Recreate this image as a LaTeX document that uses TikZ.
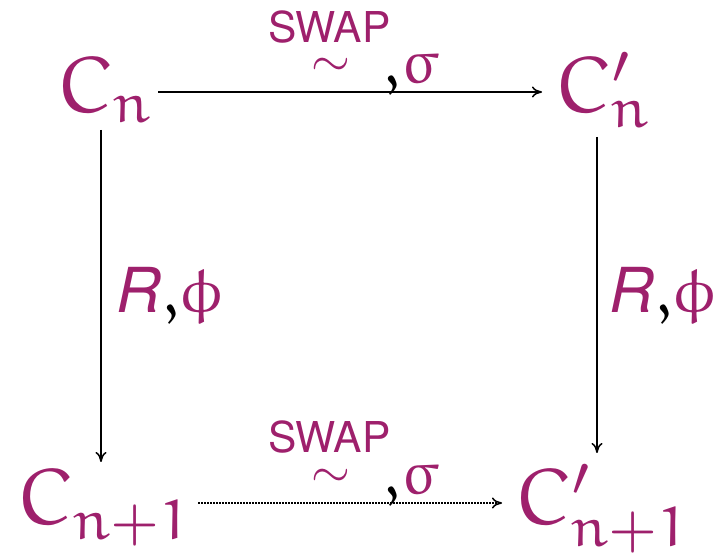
\documentclass[tikz,border=0pt]{standalone}
\usepackage[no-math]{fontspec}
\setsansfont{TeX Gyre Heros}
\DeclareFontFamily{U}{myeur}{}
\DeclareFontShape{U}{myeur}{m}{n}{<->eurm10}{}
\DeclareFontShape{U}{myeur}{b}{n}{<->eurb10}{}
\DeclareSymbolFont{eur}{U}{myeur}{m}{n}
\DeclareSymbolFont{eurb}{U}{myeur}{b}{n}
\DeclareMathSymbol{\eC}{\mathalpha}{eur}{`C}
\DeclareMathSymbol{\en}{\mathalpha}{eur}{`n}
\DeclareMathSymbol{\eone}{\mathord}{eur}{`1}
\DeclareMathSymbol{\esigma}{\mathord}{eur}{"1B}
\DeclareMathSymbol{\ephi}{\mathord}{eur}{"1E}
\DeclareMathSymbol{\ecomma}{\mathpunct}{eurb}{"3B}
\usetikzlibrary{arrows.meta}
\definecolor{plum}{RGB}{158,32,108}
\newcommand{\sub}[2]{\lower#1pt\hbox{$\scriptstyle#2$}}
\newcommand{\blk}{\textcolor{black}{\ecomma}}
\begin{document}
\begin{tikzpicture}[x=1pt,y=1pt,
  obj/.style={inner sep=0pt, text=plum, anchor=base west, scale=8.0},
  lbl/.style={inner sep=0pt, text=plum, anchor=base west, scale=6.2},
  small/.style={inner sep=0pt, text=plum, anchor=base west, scale=4.25},
  tld/.style={inner sep=0pt, text=plum, scale=5.0},
  conn/.style={line width=1.5pt, -{To[length=10pt,width=11pt]}},
  dotconn/.style={conn, dash pattern=on 1.5pt off 1.5pt}]
\useasboundingbox (0,0) rectangle (715,554);
% objects
\node[obj] (cn)   at (55,441)  {$\eC\sub{1.2}{\en}$};
\node[obj] (cnp)  at (553,441) {$\eC\rlap{$^{\prime}$}\sub{1.8}{\en}$};
\node[obj] (cn1)  at (15,29)   {$\eC\sub{1.8}{\en+\eone}$};
\node[obj] (cnp1) at (513,29)  {$\eC\rlap{$^{\prime}$}\sub{2.7}{\en+\eone}$};
% top label
\node[small] (swt) at (268,511) {\textsf{SWAP}};
\node[tld] (tlt) at (331,487) {$\sim$};
\node[lbl] (sgt) at (381,470) {$\blk\esigma$};
% bottom label
\node[small] (swb) at (268,101) {\textsf{SWAP}};
\node[tld] (tlb) at (331,76) {$\sim$};
\node[lbl] (sgb) at (381,59) {$\blk\esigma$};
% vertical labels
\node[lbl] (rl) at (115,241) {\textsf{\itshape R}$\blk\ephi$};
\node[lbl] (rr) at (608,241) {\textsf{\itshape R}$\blk\ephi$};
% connectors
\coordinate (a1) at (158,462);
\coordinate (a2) at (542,462);
\coordinate (b1) at (198,51);
\coordinate (b2) at (502,51);
\coordinate (l1) at (101,424);
\coordinate (l2) at (101,92);
\coordinate (r1) at (597,417);
\coordinate (r2) at (597,101);
\draw[conn] (a1) -- (a2);
\draw[dotconn] (b1) -- (b2);
\draw[conn] (l1) -- (l2);
\draw[conn] (r1) -- (r2);
\end{tikzpicture}
\end{document}
